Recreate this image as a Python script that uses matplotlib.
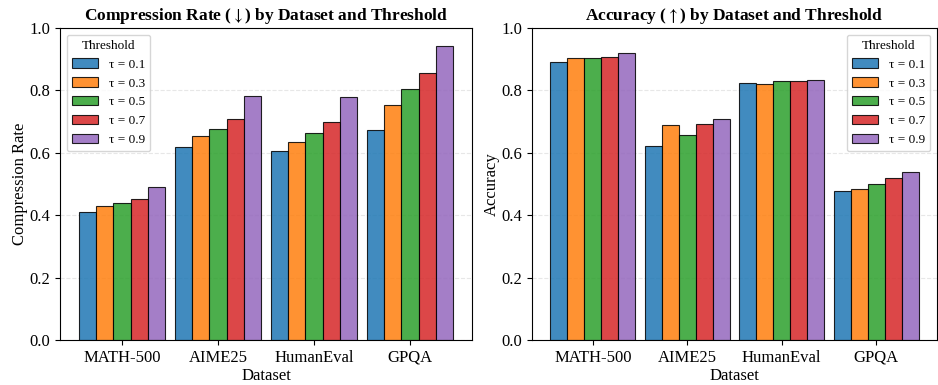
import numpy as np
import matplotlib.pyplot as plt

plt.rcParams['font.family'] = ['Liberation Serif', 'DejaVu Serif']
plt.rcParams['mathtext.fontset'] = 'stix'

# data
datasets = ['MATH-500', 'AIME25', 'HumanEval', 'GPQA']
thresholds = ['0.1', '0.3', '0.5', '0.7', '0.9']
compression = {
    '0.1': [0.409, 0.620, 0.605, 0.673],
    '0.3': [0.429, 0.655, 0.635, 0.752],
    '0.5': [0.439, 0.676, 0.662, 0.805],
    '0.7': [0.451, 0.707, 0.699, 0.857],
    '0.9': [0.489, 0.782, 0.778, 0.941],
}
accuracy = {
    '0.1': [0.890, 0.622, 0.823, 0.476],
    '0.3': [0.903, 0.690, 0.819, 0.484],
    '0.5': [0.903, 0.657, 0.829, 0.499],
    '0.7': [0.906, 0.693, 0.829, 0.520],
    '0.9': [0.921, 0.708, 0.832, 0.537],
}
colors = ['#1f77b4', '#ff7f0e', '#2ca02c', '#d62728', '#9467bd']

fig = plt.figure(figsize=(9.38, 3.85), dpi=100)
ax1 = fig.add_axes([60/938, 45/385, 412/938, 312/385])
ax2 = fig.add_axes([532/938, 45/385, 405/938, 312/385])

x = np.arange(len(datasets))
w = 0.18

def panel(ax, data, title, ylabel, legloc):
    for i, t in enumerate(thresholds):
        ax.bar(x + (i - 2) * w, data[t], w, color=colors[i], alpha=0.85,
               edgecolor='black', linewidth=0.8, label='τ = ' + t)
    ax.set_xticks(x)
    ax.set_xticklabels(datasets, fontsize=12)
    ax.set_ylim(0, 1.0)
    ax.tick_params(axis='y', labelsize=12)
    ax.set_xlabel('Dataset', fontsize=12, labelpad=2)
    ax.set_ylabel(ylabel, fontsize=12, labelpad=1)
    ax.set_title(title, fontsize=12.5, fontweight='bold', pad=6)
    ax.grid(axis='y', linestyle='--', alpha=0.3)
    ax.set_axisbelow(True)
    ax.legend(title='Threshold', fontsize=9.5, title_fontsize=9.5, loc=legloc)

panel(ax1, compression, r'Compression Rate ($\downarrow$) by Dataset and Threshold',
      'Compression Rate', 'upper left')
panel(ax2, accuracy, r'Accuracy ($\uparrow$) by Dataset and Threshold',
      'Accuracy', 'upper right')

plt.savefig('out.png', dpi=100)
